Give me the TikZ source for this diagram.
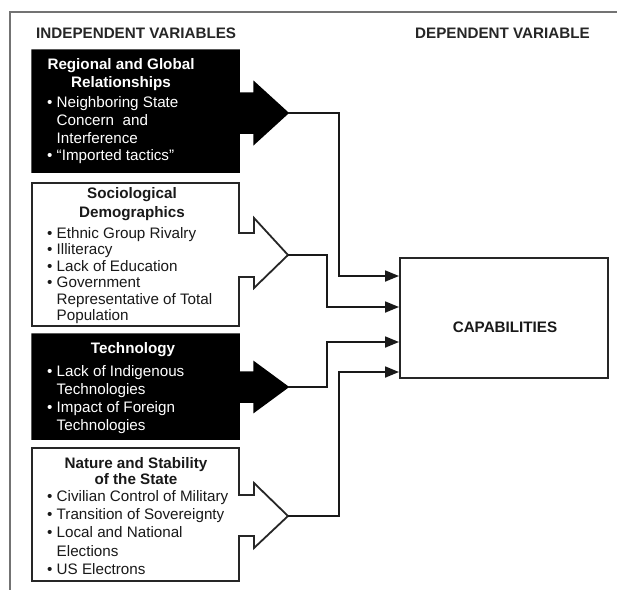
\documentclass[tikz,border=0pt]{standalone}
\usepackage{fontspec}
\setmainfont{Liberation Sans}
\usetikzlibrary{arrows.meta}
\newcommand\arbox[8]{\path[#1] (32,#2) -- (239,#2) -- (239,#4) -- (254,#4) -- (254,#6) -- (288,#8) -- (254,#7) -- (254,#5) -- (239,#5) -- (239,#3) -- (32,#3) -- cycle;}
\newcommand\ind{\hphantom{\textbullet\ }}
\begin{document}
\begin{tikzpicture}[x=1pt,y=-1pt,
  frame/.style={draw=black!55, line width=2.2pt},
  bbox/.style={fill=black, draw=black, line width=1.5pt, line join=miter},
  wbox/.style={fill=white, draw=black!85, line width=1.8pt, line join=miter},
  conn/.style={draw=black!90, line width=1.8pt, -{Triangle[length=14pt,width=11pt]}},
  txt/.style={font=\fontsize{15.2}{17}\selectfont, inner sep=0pt, anchor=base west},
  ttl/.style={font=\fontsize{15.2}{17}\selectfont\bfseries, inner sep=0pt, anchor=base},
  hdr/.style={font=\fontsize{15.2}{17}\selectfont\bfseries, inner sep=0pt, anchor=base west, text=black!85},
  wt/.style={text=white},
  bt/.style={text=black!90},
]
\useasboundingbox (0,0) rectangle (617,590);
\fill[white] (0,0) rectangle (617,590);
\draw[frame] (617,12) -- (10,12) -- (10,590);

% headers
\node[hdr] (hdrL) at (36,38) {INDEPENDENT VARIABLES};
\node[hdr] (hdrR) at (415,38) {DEPENDENT VARIABLE};

% boxes with arrows
\arbox{bbox}{50}{172}{93}{133}{82}{144}{113}
\arbox{wbox}{183}{326}{233}{277}{218}{288}{255}
\arbox{bbox}{334}{439}{372}{402}{362}{412}{387}
\arbox{wbox}{448}{581}{495}{536}{483}{548}{516}

\coordinate (tip1) at (288,113);
\coordinate (tip2) at (288,255);
\coordinate (tip3) at (288,387);
\coordinate (tip4) at (288,516);

% Regional and Global Relationships
\node[ttl,wt] (r0a) at (121,69) {Regional and Global};
\node[ttl,wt] (r0b) at (121,87) {Relationships};
\node[txt,wt] (r1) at (47,107) {\textbullet\ Neighboring State};
\node[txt,wt] (r2) at (47,125) {\ind Concern~ and};
\node[txt,wt] (r3) at (47,143) {\ind Interference};
\node[txt,wt] (r4) at (47,160) {\textbullet\ ``Imported tactics''};

% Sociological Demographics
\node[ttl,bt] (s0a) at (132,198) {Sociological};
\node[ttl,bt] (s0b) at (132,217) {Demographics};
\node[txt,bt] (s1) at (47,238) {\textbullet\ Ethnic Group Rivalry};
\node[txt,bt] (s2) at (47,254.5) {\textbullet\ Illiteracy};
\node[txt,bt] (s3) at (47,271) {\textbullet\ Lack of Education};
\node[txt,bt] (s4) at (47,287.5) {\textbullet\ Government};
\node[txt,bt] (s5) at (47,304) {\ind Representative of Total};
\node[txt,bt] (s6) at (47,320.5) {\ind Population};

% Technology
\node[ttl,wt] (t0) at (133,353) {Technology};
\node[txt,wt] (t1) at (47,376) {\textbullet\ Lack of Indigenous};
\node[txt,wt] (t2) at (47,394) {\ind Technologies};
\node[txt,wt] (t3) at (47,412) {\textbullet\ Impact of Foreign};
\node[txt,wt] (t4) at (47,430) {\ind Technologies};

% Nature and Stability of the State
\node[ttl,bt] (n0a) at (136,468) {Nature and Stability};
\node[ttl,bt] (n0b) at (136,484) {of the State};
\node[txt,bt] (n1) at (47,501) {\textbullet\ Civilian Control of Military};
\node[txt,bt] (n2) at (47,519) {\textbullet\ Transition of Sovereignty};
\node[txt,bt] (n3) at (47,537) {\textbullet\ Local and National};
\node[txt,bt] (n4) at (47,556) {\ind Elections};
\node[txt,bt] (n5) at (47,574) {\textbullet\ US Electrons};

% Capabilities
\node[draw=black!85, line width=1.8pt, minimum width=208pt, minimum height=120pt, inner sep=0pt, anchor=north west] (cap) at (399,257) {};
\node[ttl,bt] (captxt) at (505,332.5) {CAPABILITIES};

% connectors
\draw[conn] (tip1) -- (339,113) -- (339,276) -- (cap.west |- 0,276);
\draw[conn] (tip2) -- (327,255) -- (327,307) -- (cap.west |- 0,307);
\draw[conn] (tip3) -- (327,387) -- (327,342) -- (cap.west |- 0,342);
\draw[conn] (tip4) -- (339,516) -- (339,372) -- (cap.west |- 0,372);
\end{tikzpicture}
\end{document}
